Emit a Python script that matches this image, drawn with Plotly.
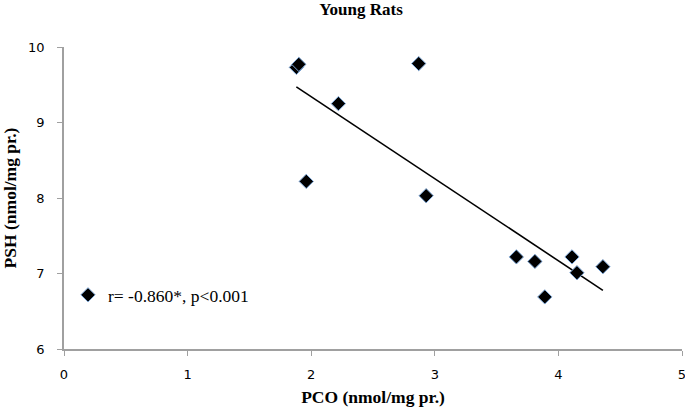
import numpy as np
import plotly.graph_objects as go

# Data
pco = [1.88, 1.90, 2.87, 2.22, 1.96, 2.93, 3.66, 3.81, 4.11, 4.15, 3.89, 4.36]
psh = [9.73, 9.77, 9.78, 9.25, 8.22, 8.03, 7.22, 7.16, 7.22, 7.01, 6.69, 7.09]
legend_label = "r= -0.860*, p<0.001"
x_ticks = [0, 1, 2, 3, 4, 5]
y_ticks = [6, 7, 8, 9, 10]

slope, intercept = np.polyfit(pco, psh, 1)
x_fit = np.array([min(pco), max(pco)])
y_fit = slope * x_fit + intercept

serif = "Liberation Serif, Times New Roman, serif"
sans = "DejaVu Sans, Verdana, sans-serif"

fig = go.Figure()
fig.add_trace(go.Scatter(
    x=x_fit, y=y_fit, mode="lines",
    line=dict(color="black", width=1.6),
    showlegend=False, hoverinfo="skip", cliponaxis=False,
))
fig.add_trace(go.Scatter(
    x=pco, y=psh, mode="markers",
    marker=dict(symbol="diamond", size=11, color="black",
                line=dict(color="#7fa9d9", width=1)),
    name=legend_label, showlegend=True, cliponaxis=False,
))

fig.update_layout(
    template="none",
    width=685, height=414,
    margin=dict(l=64, r=3, t=47, b=65),
    paper_bgcolor="white", plot_bgcolor="white",
    title=dict(text="<b>Young Rats</b>", x=0.527, xanchor="center",
               y=0.993, yanchor="top",
               font=dict(family=serif, size=17, color="black")),
    legend=dict(x=0.0065, y=0.179, xanchor="left", yanchor="middle",
                bgcolor="rgba(0,0,0,0)", itemwidth=30,
                font=dict(family=serif, size=17.5, color="black")),
    showlegend=True,
)
fig.update_xaxes(
    range=[0, 5], tickvals=x_ticks, showgrid=False, zeroline=False,
    automargin=False, ticklabeloverflow="allow",
    showline=True, linecolor="#a0a0a0", linewidth=1.5,
    ticks="outside", ticklen=5, tickcolor="#a0a0a0",
    ticklabelstandoff=8,
    tickfont=dict(family=sans, size=13, color="black"),
    title=dict(text="<b>PCO (nmol/mg pr.)</b>", standoff=9,
               font=dict(family=serif, size=17.5, color="black")),
)
fig.update_yaxes(
    range=[6, 10], tickvals=y_ticks, showgrid=False, zeroline=False,
    automargin=False, ticklabeloverflow="allow",
    showline=True, linecolor="#a0a0a0", linewidth=1.5,
    ticks="outside", ticklen=5, tickcolor="#a0a0a0",
    ticklabelstandoff=10,
    tickfont=dict(family=sans, size=13, color="black"),
    title=dict(text="<b>PSH (nmol/mg pr.)</b>", standoff=8,
               font=dict(family=serif, size=17.5, color="black")),
)

fig.write_html("out.html", config={"displayModeBar": False},
               post_script="document.body.style.margin='0';")
